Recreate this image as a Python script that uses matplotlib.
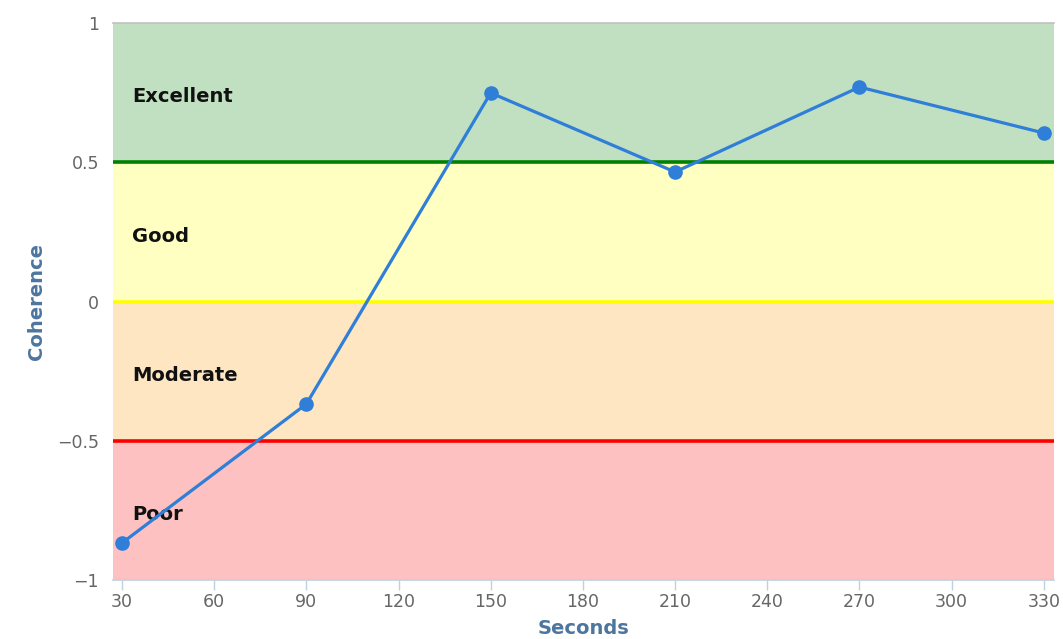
import matplotlib
matplotlib.use("Agg")
import numpy as np
from matplotlib import pyplot as plt

# data
seconds = [30, 90, 150, 210, 270, 330]
coherence = [-0.867, -0.368, 0.749, 0.465, 0.770, 0.605]
x_ticks = [30, 60, 90, 120, 150, 180, 210, 240, 270, 300, 330]
y_ticks = [-1, -0.5, 0, 0.5, 1]
y_tick_labels = ["\u22121", "\u22120.5", "0", "0.5", "1"]

band_names = ["Excellent", "Good", "Moderate", "Poor"]
band_edges = [(0.5, 1.0), (0.0, 0.5), (-0.5, 0.0), (-1.0, -0.5)]
band_colors = ["#c1e0c1", "#ffffc1", "#fde6c1", "#fdc1c1"]
line_levels = [0.5, 0.0, -0.5]
line_colors = ["#008000", "#ffff00", "#ff0000"]

fig = plt.figure(figsize=(10.63, 6.39), dpi=100)
ax = fig.add_axes([0.1063, 0.0923, 0.8852, 0.8717])

for name, (lo, hi), c in zip(band_names, band_edges, band_colors):
    ax.axhspan(lo, hi, color=c, lw=0, zorder=0)
    ax.text(33.2, (lo + hi) / 2 - 0.015, name, fontsize=14, fontweight="bold",
            color="#111111", va="center", ha="left", zorder=1)

for lvl, c in zip(line_levels, line_colors):
    ax.axhline(lvl, color=c, lw=2.6, zorder=1)

ax.plot(seconds, coherence, color="#2f7ed8", lw=2.3, marker="o",
        markersize=9.5, zorder=3, clip_on=False)

ax.set_xlim(27.07, 333.3)
ax.set_ylim(-1, 1)
ax.set_xticks(x_ticks)
ax.set_yticks(y_ticks)
ax.set_yticklabels(y_tick_labels)

for s in ["left", "right"]:
    ax.spines[s].set_visible(False)
ax.spines["bottom"].set_color("#c0d0e0")
ax.spines["bottom"].set_linewidth(1.2)
ax.spines["top"].set_color("#c0c0c0")
ax.spines["top"].set_linewidth(1.2)

ax.tick_params(axis="x", colors="#c0d0e0", length=7, width=1, labelcolor="#666666",
               labelsize=12.5, pad=2)
ax.tick_params(axis="y", length=0, labelcolor="#666666", labelsize=12.5, pad=10)

ax.set_xlabel("Seconds", fontsize=14, fontweight="bold", color="#4d759e", labelpad=6)
ax.set_ylabel("Coherence", fontsize=14, fontweight="bold", color="#4d759e", labelpad=8)

fig.savefig("out.png", dpi=100)
